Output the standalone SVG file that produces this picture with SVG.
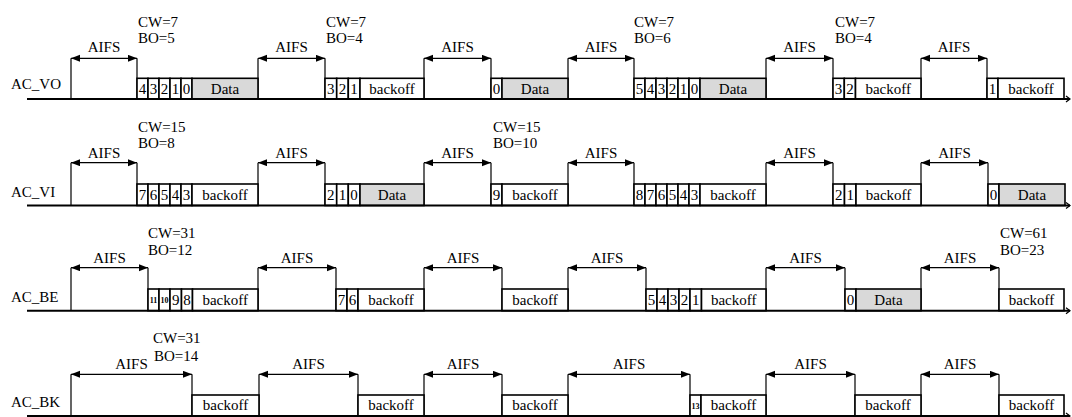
<svg xmlns="http://www.w3.org/2000/svg" width="1072" height="417" viewBox="0 0 1072 417">
<style>
text{font-family:"Liberation Serif","Times New Roman",serif;font-size:15px;fill:#000}
.c{text-anchor:middle}
.d{font-size:15px;text-anchor:middle}
.t{font-size:8px;font-weight:bold;text-anchor:middle}
.b{fill:#fff;stroke:#000;stroke-width:1.6}
.g{fill:#d9d9d9;stroke:#000;stroke-width:1.6}
.v{stroke:#000;stroke-width:1.2;fill:none}
.a{stroke:#000;stroke-width:1.2;fill:none;marker-start:url(#ah);marker-end:url(#ah)}
.x{stroke:#000;stroke-width:2;fill:none;marker-end:url(#ax)}
</style>
<defs>
<marker id="ah" markerUnits="userSpaceOnUse" markerWidth="10" markerHeight="8" refX="9" refY="3.5" orient="auto-start-reverse"><path d="M0,0 L9,3.5 L0,7 z" fill="#000"/></marker>
<marker id="ax" markerUnits="userSpaceOnUse" markerWidth="8" markerHeight="8" refX="5" refY="4" orient="auto"><path d="M1,1 L5,4 L1,7" fill="none" stroke="#000" stroke-width="1.2"/></marker>
</defs>
<rect width="1072" height="417" fill="#fff"/>

<!-- ROW 1 AC_VO -->
<g id="row1">
<g id="vo-label"><text x="11" y="89">AC_VO</text></g>
<g id="vo-cw1"><text x="138" y="26.7">CW=7</text><text x="138" y="43.3">BO=5</text></g>
<g id="vo-cw2"><text x="326" y="26.7">CW=7</text><text x="326" y="43.3">BO=4</text></g>
<g id="vo-cw3"><text x="634" y="26.7">CW=7</text><text x="634" y="43.3">BO=6</text></g>
<g id="vo-cw4"><text x="835" y="26.7">CW=7</text><text x="835" y="43.3">BO=4</text></g>
<g id="vo-aifs1"><path class="v" d="M71,58.3V99M137,58.3V99"/><line class="a" x1="71" y1="58.3" x2="137" y2="58.3"/><text class="c" x="104" y="51.7">AIFS</text></g>
<g id="vo-aifs2"><path class="v" d="M258,58.3V99M325,58.3V99"/><line class="a" x1="258" y1="58.3" x2="325" y2="58.3"/><text class="c" x="291.5" y="51.7">AIFS</text></g>
<g id="vo-aifs3"><path class="v" d="M424,58.3V99M491,58.3V99"/><line class="a" x1="424" y1="58.3" x2="491" y2="58.3"/><text class="c" x="457.5" y="51.7">AIFS</text></g>
<g id="vo-aifs4"><path class="v" d="M568,58.3V99M634,58.3V99"/><line class="a" x1="568" y1="58.3" x2="634" y2="58.3"/><text class="c" x="601" y="51.7">AIFS</text></g>
<g id="vo-aifs5"><path class="v" d="M766,58.3V99M833,58.3V99"/><line class="a" x1="766" y1="58.3" x2="833" y2="58.3"/><text class="c" x="799.5" y="51.7">AIFS</text></g>
<g id="vo-aifs6"><path class="v" d="M921,58.3V99M987,58.3V99"/><line class="a" x1="921" y1="58.3" x2="987" y2="58.3"/><text class="c" x="954" y="51.7">AIFS</text></g>
<g id="vo-s1">
<rect class="b" x="137" y="78.3" width="11" height="20.7"/><text class="d" x="142.5" y="93.8">4</text>
<rect class="b" x="148" y="78.3" width="11" height="20.7"/><text class="d" x="153.5" y="93.8">3</text>
<rect class="b" x="159" y="78.3" width="11" height="20.7"/><text class="d" x="164.5" y="93.8">2</text>
<rect class="b" x="170" y="78.3" width="11" height="20.7"/><text class="d" x="175.5" y="93.8">1</text>
<rect class="b" x="181" y="78.3" width="11" height="20.7"/><text class="d" x="186.5" y="93.8">0</text>
<rect class="g" x="192" y="78.3" width="66" height="20.7"/><text class="c" x="225" y="93.8">Data</text>
</g>
<g id="vo-s2">
<rect class="b" x="325" y="78.3" width="11.7" height="20.7"/><text class="d" x="330.8" y="93.8">3</text>
<rect class="b" x="336.7" y="78.3" width="11.6" height="20.7"/><text class="d" x="342.5" y="93.8">2</text>
<rect class="b" x="348.3" y="78.3" width="11.7" height="20.7"/><text class="d" x="354.1" y="93.8">1</text>
<rect class="b" x="360" y="78.3" width="64" height="20.7"/><text class="c" x="392" y="93.8">backoff</text>
</g>
<g id="vo-s3">
<rect class="b" x="491" y="78.3" width="11" height="20.7"/><text class="d" x="496.5" y="93.8">0</text>
<rect class="g" x="502" y="78.3" width="66" height="20.7"/><text class="c" x="535" y="93.8">Data</text>
</g>
<g id="vo-s4">
<rect class="b" x="634" y="78.3" width="11" height="20.7"/><text class="d" x="639.5" y="93.8">5</text>
<rect class="b" x="645" y="78.3" width="11" height="20.7"/><text class="d" x="650.5" y="93.8">4</text>
<rect class="b" x="656" y="78.3" width="11" height="20.7"/><text class="d" x="661.5" y="93.8">3</text>
<rect class="b" x="667" y="78.3" width="11" height="20.7"/><text class="d" x="672.5" y="93.8">2</text>
<rect class="b" x="678" y="78.3" width="11" height="20.7"/><text class="d" x="683.5" y="93.8">1</text>
<rect class="b" x="689" y="78.3" width="11" height="20.7"/><text class="d" x="694.5" y="93.8">0</text>
<rect class="g" x="700" y="78.3" width="66" height="20.7"/><text class="c" x="733" y="93.8">Data</text>
</g>
<g id="vo-s5">
<rect class="b" x="833" y="78.3" width="11.3" height="20.7"/><text class="d" x="838.6" y="93.8">3</text>
<rect class="b" x="844.3" y="78.3" width="11.2" height="20.7"/><text class="d" x="849.9" y="93.8">2</text>
<rect class="b" x="855.5" y="78.3" width="65.5" height="20.7"/><text class="c" x="888.2" y="93.8">backoff</text>
</g>
<g id="vo-s6">
<rect class="b" x="987" y="78.3" width="11" height="20.7"/><text class="d" x="992.5" y="93.8">1</text>
<rect class="b" x="998" y="78.3" width="66" height="20.7"/><text class="c" x="1031" y="93.8">backoff</text>
</g>
</g>

<!-- ROW 2 AC_VI -->
<g id="row2">
<g id="vi-label"><text x="11" y="197.3">AC_VI</text></g>
<g id="vi-cw1"><text x="138" y="131.7">CW=15</text><text x="138" y="148.3">BO=8</text></g>
<g id="vi-cw2"><text x="493" y="131.7">CW=15</text><text x="493" y="148.3">BO=10</text></g>
<g id="vi-aifs1"><path class="v" d="M71,162.7V205.5M137,162.7V205.5"/><line class="a" x1="71" y1="162.7" x2="137" y2="162.7"/><text class="c" x="104" y="157.7">AIFS</text></g>
<g id="vi-aifs2"><path class="v" d="M258,162.7V205.5M325,162.7V205.5"/><line class="a" x1="258" y1="162.7" x2="325" y2="162.7"/><text class="c" x="291.5" y="157.7">AIFS</text></g>
<g id="vi-aifs3"><path class="v" d="M424,162.7V205.5M491,162.7V205.5"/><line class="a" x1="424" y1="162.7" x2="491" y2="162.7"/><text class="c" x="457.5" y="157.7">AIFS</text></g>
<g id="vi-aifs4"><path class="v" d="M568,162.7V205.5M634,162.7V205.5"/><line class="a" x1="568" y1="162.7" x2="634" y2="162.7"/><text class="c" x="601" y="157.7">AIFS</text></g>
<g id="vi-aifs5"><path class="v" d="M766,162.7V205.5M833,162.7V205.5"/><line class="a" x1="766" y1="162.7" x2="833" y2="162.7"/><text class="c" x="799.5" y="157.7">AIFS</text></g>
<g id="vi-aifs6"><path class="v" d="M921,162.7V205.5M988,162.7V205.5"/><line class="a" x1="921" y1="162.7" x2="988" y2="162.7"/><text class="c" x="954.5" y="157.7">AIFS</text></g>
<g id="vi-s1">
<rect class="b" x="137" y="184" width="11" height="21.5"/><text class="d" x="142.5" y="199.8">7</text>
<rect class="b" x="148" y="184" width="11" height="21.5"/><text class="d" x="153.5" y="199.8">6</text>
<rect class="b" x="159" y="184" width="11" height="21.5"/><text class="d" x="164.5" y="199.8">5</text>
<rect class="b" x="170" y="184" width="11" height="21.5"/><text class="d" x="175.5" y="199.8">4</text>
<rect class="b" x="181" y="184" width="11" height="21.5"/><text class="d" x="186.5" y="199.8">3</text>
<rect class="b" x="192" y="184" width="66" height="21.5"/><text class="c" x="225" y="199.8">backoff</text>
</g>
<g id="vi-s2">
<rect class="b" x="325" y="184" width="11.7" height="21.5"/><text class="d" x="330.8" y="199.8">2</text>
<rect class="b" x="336.7" y="184" width="11.6" height="21.5"/><text class="d" x="342.5" y="199.8">1</text>
<rect class="b" x="348.3" y="184" width="11.7" height="21.5"/><text class="d" x="354.1" y="199.8">0</text>
<rect class="g" x="360" y="184" width="64" height="21.5"/><text class="c" x="392" y="199.8">Data</text>
</g>
<g id="vi-s3">
<rect class="b" x="491" y="184" width="11" height="21.5"/><text class="d" x="496.5" y="199.8">9</text>
<rect class="b" x="502" y="184" width="66" height="21.5"/><text class="c" x="535" y="199.8">backoff</text>
</g>
<g id="vi-s4">
<rect class="b" x="634" y="184" width="11" height="21.5"/><text class="d" x="639.5" y="199.8">8</text>
<rect class="b" x="645" y="184" width="11" height="21.5"/><text class="d" x="650.5" y="199.8">7</text>
<rect class="b" x="656" y="184" width="11" height="21.5"/><text class="d" x="661.5" y="199.8">6</text>
<rect class="b" x="667" y="184" width="11" height="21.5"/><text class="d" x="672.5" y="199.8">5</text>
<rect class="b" x="678" y="184" width="11" height="21.5"/><text class="d" x="683.5" y="199.8">4</text>
<rect class="b" x="689" y="184" width="11" height="21.5"/><text class="d" x="694.5" y="199.8">3</text>
<rect class="b" x="700" y="184" width="66" height="21.5"/><text class="c" x="733" y="199.8">backoff</text>
</g>
<g id="vi-s5">
<rect class="b" x="833" y="184" width="11.5" height="21.5"/><text class="d" x="838.7" y="199.8">2</text>
<rect class="b" x="844.5" y="184" width="11.5" height="21.5"/><text class="d" x="850.2" y="199.8">1</text>
<rect class="b" x="856" y="184" width="65" height="21.5"/><text class="c" x="888.5" y="199.8">backoff</text>
</g>
<g id="vi-s6">
<rect class="b" x="988" y="184" width="11" height="21.5"/><text class="d" x="993.5" y="199.8">0</text>
<rect class="g" x="999" y="184" width="66" height="21.5"/><text class="c" x="1032" y="199.8">Data</text>
</g>
</g>

<!-- ROW 3 AC_BE -->
<g id="row3">
<g id="be-label"><text x="11" y="302.3">AC_BE</text></g>
<g id="be-cw1"><text x="148" y="237.7">CW=31</text><text x="148" y="255">BO=12</text></g>
<g id="be-cw2"><text x="1000" y="237.7">CW=61</text><text x="1000" y="255">BO=23</text></g>
<g id="be-aifs1"><path class="v" d="M71,267.7V310.7M148,267.7V310.7"/><line class="a" x1="71" y1="267.7" x2="148" y2="267.7"/><text class="c" x="109.5" y="262.7">AIFS</text></g>
<g id="be-aifs2"><path class="v" d="M258,267.7V310.7M336,267.7V310.7"/><line class="a" x1="258" y1="267.7" x2="336" y2="267.7"/><text class="c" x="297" y="262.7">AIFS</text></g>
<g id="be-aifs3"><path class="v" d="M424,267.7V310.7M502,267.7V310.7"/><line class="a" x1="424" y1="267.7" x2="502" y2="267.7"/><text class="c" x="463" y="262.7">AIFS</text></g>
<g id="be-aifs4"><path class="v" d="M568,267.7V310.7M646,267.7V310.7"/><line class="a" x1="568" y1="267.7" x2="646" y2="267.7"/><text class="c" x="607" y="262.7">AIFS</text></g>
<g id="be-aifs5"><path class="v" d="M766,267.7V310.7M845,267.7V310.7"/><line class="a" x1="766" y1="267.7" x2="845" y2="267.7"/><text class="c" x="805.5" y="262.7">AIFS</text></g>
<g id="be-aifs6"><path class="v" d="M921,267.7V310.7M999,267.7V310.7"/><line class="a" x1="921" y1="267.7" x2="999" y2="267.7"/><text class="c" x="960" y="262.7">AIFS</text></g>
<g id="be-s1">
<rect class="b" x="148" y="289" width="11" height="21.7"/><text class="t" x="153.5" y="302.5">11</text>
<rect class="b" x="159" y="289" width="11" height="21.7"/><text class="t" x="164.5" y="302.5">10</text>
<rect class="b" x="170" y="289" width="11.5" height="21.7"/><text class="d" x="175.7" y="304.8">9</text>
<rect class="b" x="181.5" y="289" width="11" height="21.7"/><text class="d" x="187" y="304.8">8</text>
<rect class="b" x="192.5" y="289" width="65.5" height="21.7"/><text class="c" x="225.2" y="304.8">backoff</text>
</g>
<g id="be-s2">
<rect class="b" x="336" y="289" width="11" height="21.7"/><text class="d" x="341.5" y="304.8">7</text>
<rect class="b" x="347" y="289" width="11" height="21.7"/><text class="d" x="352.5" y="304.8">6</text>
<rect class="b" x="358" y="289" width="66" height="21.7"/><text class="c" x="391" y="304.8">backoff</text>
</g>
<g id="be-s3">
<rect class="b" x="502" y="289" width="66" height="21.7"/><text class="c" x="535" y="304.8">backoff</text>
</g>
<g id="be-s4">
<rect class="b" x="646" y="289" width="11" height="21.7"/><text class="d" x="651.5" y="304.8">5</text>
<rect class="b" x="657" y="289" width="11" height="21.7"/><text class="d" x="662.5" y="304.8">4</text>
<rect class="b" x="668" y="289" width="11" height="21.7"/><text class="d" x="673.5" y="304.8">3</text>
<rect class="b" x="679" y="289" width="11" height="21.7"/><text class="d" x="684.5" y="304.8">2</text>
<rect class="b" x="690" y="289" width="11.5" height="21.7"/><text class="d" x="695.7" y="304.8">1</text>
<rect class="b" x="701.5" y="289" width="64.5" height="21.7"/><text class="c" x="733.7" y="304.8">backoff</text>
</g>
<g id="be-s5">
<rect class="b" x="845" y="289" width="11" height="21.7"/><text class="d" x="850.5" y="304.8">0</text>
<rect class="g" x="856" y="289" width="65" height="21.7"/><text class="c" x="888.5" y="304.8">Data</text>
</g>
<g id="be-s6">
<rect class="b" x="999" y="289" width="65" height="21.7"/><text class="c" x="1031.5" y="304.8">backoff</text>
</g>
</g>

<!-- ROW 4 AC_BK -->
<g id="row4">
<g id="bk-label"><text x="11" y="407.3">AC_BK</text></g>
<g id="bk-cw1"><text x="153" y="343.3">CW=31</text><text x="154" y="360.7">BO=14</text></g>
<g id="bk-aifs1"><path class="v" d="M71,374.3V416M192,374.3V416"/><line class="a" x1="71" y1="374.3" x2="192" y2="374.3"/><text class="c" x="131.5" y="369">AIFS</text></g>
<g id="bk-aifs2"><path class="v" d="M259,374.3V416M358,374.3V416"/><line class="a" x1="259" y1="374.3" x2="358" y2="374.3"/><text class="c" x="308.5" y="369">AIFS</text></g>
<g id="bk-aifs3"><path class="v" d="M424,374.3V416M502,374.3V416"/><line class="a" x1="424" y1="374.3" x2="502" y2="374.3"/><text class="c" x="463" y="369">AIFS</text></g>
<g id="bk-aifs4"><path class="v" d="M568,374.3V416M690,374.3V416"/><line class="a" x1="568" y1="374.3" x2="690" y2="374.3"/><text class="c" x="629" y="369">AIFS</text></g>
<g id="bk-aifs5"><path class="v" d="M766,374.3V416M855,374.3V416"/><line class="a" x1="766" y1="374.3" x2="855" y2="374.3"/><text class="c" x="810.5" y="369">AIFS</text></g>
<g id="bk-aifs6"><path class="v" d="M921,374.3V416M999,374.3V416"/><line class="a" x1="921" y1="374.3" x2="999" y2="374.3"/><text class="c" x="960" y="369">AIFS</text></g>
<g id="bk-s1"><rect class="b" x="192" y="395" width="67" height="21"/><text class="c" x="225.5" y="410.3">backoff</text></g>
<g id="bk-s2"><rect class="b" x="358" y="395" width="66" height="21"/><text class="c" x="391" y="410.3">backoff</text></g>
<g id="bk-s3"><rect class="b" x="502" y="395" width="66" height="21"/><text class="c" x="535" y="410.3">backoff</text></g>
<g id="bk-s4">
<rect class="b" x="690" y="395" width="11" height="21"/><text class="t" x="695.5" y="408.5">13</text>
<rect class="b" x="701" y="395" width="65" height="21"/><text class="c" x="733.5" y="410.3">backoff</text>
</g>
<g id="bk-s5"><rect class="b" x="855" y="395" width="66" height="21"/><text class="c" x="888" y="410.3">backoff</text></g>
<g id="bk-s6"><rect class="b" x="999" y="395" width="65" height="21"/><text class="c" x="1031.5" y="410.3">backoff</text></g>
</g>

<!-- connectors: time axes -->
<g id="axes">
<line class="x" x1="27" y1="99" x2="1070" y2="99"/>
<line class="x" x1="27" y1="205.5" x2="1070" y2="205.5"/>
<line class="x" x1="27" y1="310.7" x2="1070" y2="310.7"/>
<line class="x" x1="27" y1="416" x2="1070" y2="416"/>
</g>
</svg>
